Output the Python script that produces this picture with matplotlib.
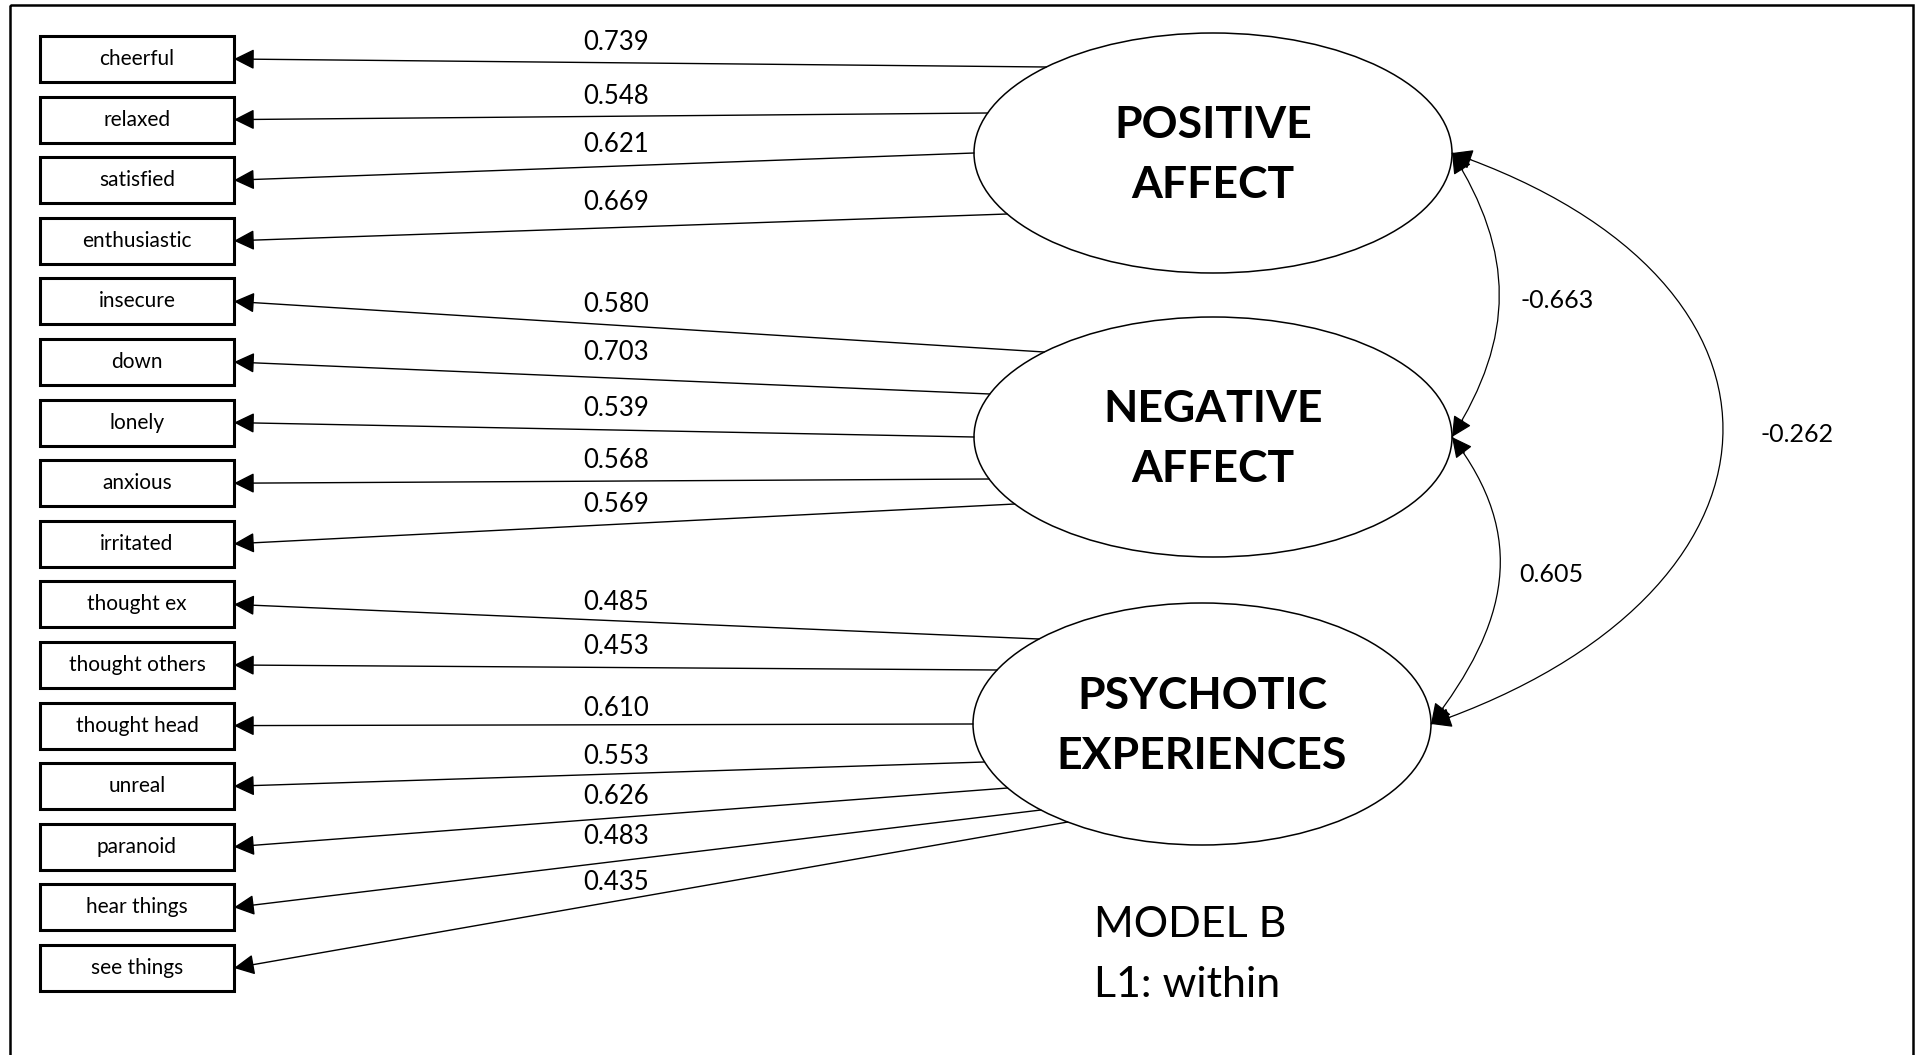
import numpy as np
import matplotlib.pyplot as plt
from matplotlib.patches import Ellipse, Rectangle, FancyArrowPatch, PathPatch
from matplotlib.path import Path

plt.rcParams['font.family'] = ['Lato', 'DejaVu Sans']

# model values
indicators = ['cheerful', 'relaxed', 'satisfied', 'enthusiastic',
              'insecure', 'down', 'lonely', 'anxious', 'irritated',
              'thought ex', 'thought others', 'thought head', 'unreal',
              'paranoid', 'hear things', 'see things']
loadings = [0.739, 0.548, 0.621, 0.669,
            0.580, 0.703, 0.539, 0.568, 0.569,
            0.485, 0.453, 0.610, 0.553, 0.626, 0.483, 0.435]
factor_of = [0, 0, 0, 0, 1, 1, 1, 1, 1, 2, 2, 2, 2, 2, 2, 2]
factors = ['POSITIVE\nAFFECT', 'NEGATIVE\nAFFECT', 'PSYCHOTIC\nEXPERIENCES']
corr_pairs = [(0, 1), (1, 2), (0, 2)]
corr_values = [-0.663, 0.605, -0.262]

# layout (pixels)
W, H = 1921, 1055
box_x0, box_x1, box_h = 40, 234, 46
row_y0, row_step = 59, 60.6
ell_centers = [(1213, 153), (1213, 437), (1202, 724)]
ell_radii = [(239, 120), (239, 120), (229, 121)]
attach_dy = [-86, -40, 0, 61, -85, -43, 0, 42, 67, -85, -54, 0, 38, 64, 86, 98]
label_x = 616
label_y = [43, 96, 145, 203, 305, 353, 409, 461, 505, 602, 647, 708, 756, 796, 837, 883]
# bezier handle (dx, dy) at each end of the correlation curves
corr_handle = [(63, 100), (77, 100), (375, 130)]
corr_label_xy = [(1557, 301), (1551, 575), (1797, 435)]

head = dict(arrowstyle='-|>,head_length=0.7,head_width=0.35',
            mutation_scale=18, color='black', shrinkA=0, shrinkB=0)

fig = plt.figure(figsize=(19.21, 10.55), dpi=100)
ax = fig.add_axes([0, 0, 1, 1])
ax.set_xlim(0, W)
ax.set_ylim(H, 0)
ax.axis('off')

# outer frame (bottom edge is cut off)
ax.add_patch(Rectangle((10, 5), 1903, 1100, fill=False, lw=1.8, ec='black'))

# latent variables
for (cx, cy), (rx, ry), name in zip(ell_centers, ell_radii, factors):
    ax.add_patch(Ellipse((cx, cy), 2 * rx, 2 * ry, fill=False, lw=1.1, ec='black'))
    ax.text(cx, cy + 2, name, ha='center', va='center', fontsize=32,
            fontweight='bold', linespacing=1.6)

# observed indicators and loadings
for i, name in enumerate(indicators):
    y = row_y0 + i * row_step
    ax.add_patch(Rectangle((box_x0, y - box_h / 2), box_x1 - box_x0, box_h,
                           fill=False, lw=2.2, ec='black'))
    ax.text((box_x0 + box_x1) / 2, y, name, ha='center', va='center', fontsize=15)

    f = factor_of[i]
    cx, cy = ell_centers[f]
    rx, ry = ell_radii[f]
    dy = attach_dy[i]
    sx = cx - rx * np.sqrt(1 - (dy / ry) ** 2)
    ax.add_patch(FancyArrowPatch((sx, cy + dy), (box_x1, y), lw=1.0, **head))
    ax.text(label_x, label_y[i], f'{loadings[i]:.3f}', ha='center', va='center',
            fontsize=18.5)

# factor correlations (curved double-headed arrows on the right)
for (a, b), r, (hx, hy), (lx, ly) in zip(corr_pairs, corr_values, corr_handle, corr_label_xy):
    pa = (ell_centers[a][0] + ell_radii[a][0], ell_centers[a][1])
    pb = (ell_centers[b][0] + ell_radii[b][0], ell_centers[b][1])
    ca = (pa[0] + hx, pa[1] + hy)
    cb = (pb[0] + hx, pb[1] - hy)
    curve = Path([pa, ca, cb, pb], [Path.MOVETO, Path.CURVE4, Path.CURVE4, Path.CURVE4])
    ax.add_patch(PathPatch(curve, fill=False, lw=0.9, ec='black'))
    # arrowheads along the end tangents
    for p, c in ((pa, ca), (pb, cb)):
        d = np.hypot(c[0] - p[0], c[1] - p[1])
        tail = (p[0] + (c[0] - p[0]) * 20 / d, p[1] + (c[1] - p[1]) * 20 / d)
        ax.add_patch(FancyArrowPatch(tail, p, lw=0.9, **head))
    ax.text(lx, ly, f'{r:.3f}', ha='center', va='center', fontsize=18)

ax.text(1094, 925, 'MODEL B', ha='left', va='center', fontsize=31)
ax.text(1094, 985, 'L1: within', ha='left', va='center', fontsize=31)

fig.savefig('out.png', dpi=100)
